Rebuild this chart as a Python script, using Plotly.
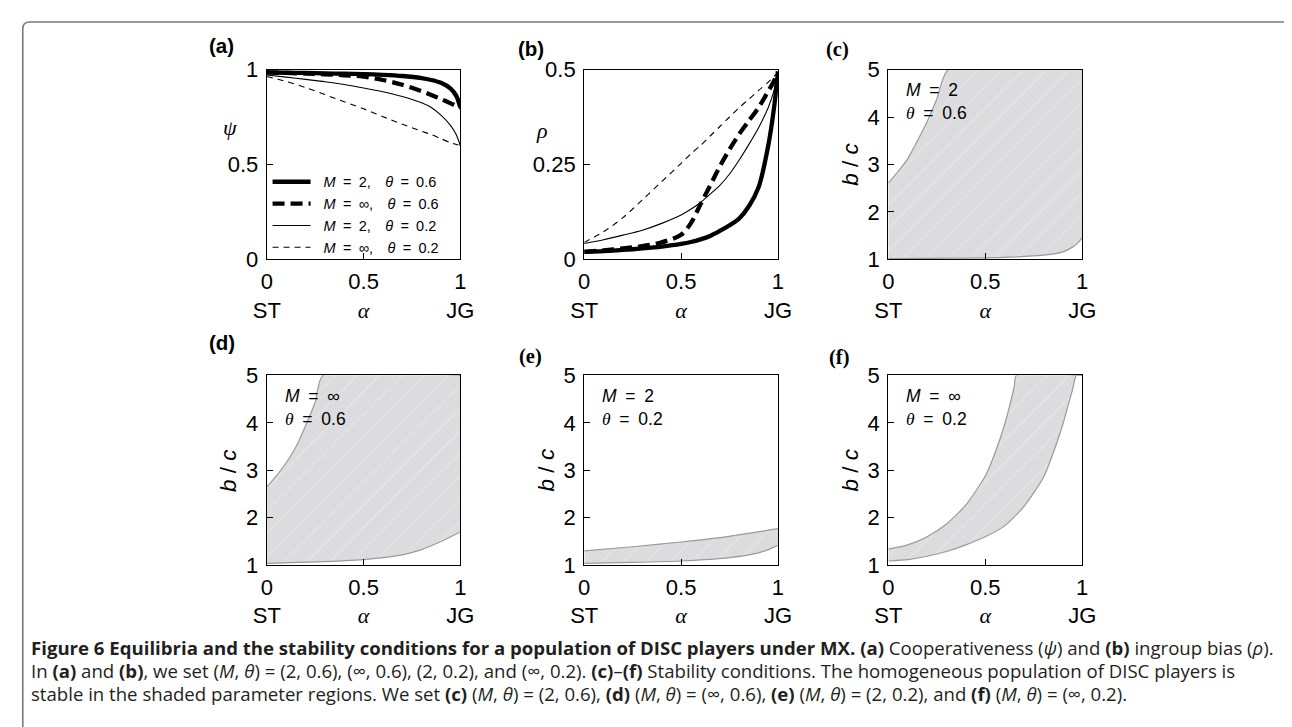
import plotly.graph_objects as go

# ---------------- data ----------------
alpha_a = [0, 0.1, 0.2, 0.3, 0.4, 0.5, 0.6, 0.7, 0.8, 0.85, 0.9, 0.95, 0.98, 1.0]
psi_M2_t06 = [0.985, 0.983, 0.982, 0.980, 0.978, 0.976, 0.972, 0.966, 0.955, 0.945, 0.930, 0.900, 0.860, 0.800]
psi_Minf_t06 = [0.985, 0.982, 0.979, 0.975, 0.970, 0.963, 0.945, 0.920, 0.886, 0.866, 0.845, 0.822, 0.808, 0.800]
psi_M2_t02 = [0.971, 0.960, 0.948, 0.936, 0.921, 0.903, 0.883, 0.858, 0.825, 0.800, 0.760, 0.705, 0.655, 0.598]
psi_Minf_t02 = [0.963, 0.937, 0.905, 0.868, 0.830, 0.793, 0.752, 0.712, 0.675, 0.658, 0.636, 0.615, 0.605, 0.600]

alpha_b = [0, 0.1, 0.2, 0.3, 0.4, 0.5, 0.55, 0.6, 0.65, 0.7, 0.75, 0.8, 0.85, 0.9, 0.95, 0.98, 1.0]
rho_M2_t06 = [0.020, 0.022, 0.025, 0.029, 0.034, 0.041, 0.046, 0.053, 0.062, 0.075, 0.090, 0.108, 0.140, 0.190, 0.300, 0.400, 0.494]
rho_Minf_t06 = [0.020, 0.024, 0.029, 0.035, 0.045, 0.065, 0.095, 0.145, 0.195, 0.245, 0.290, 0.330, 0.365, 0.400, 0.443, 0.470, 0.494]
rho_M2_t02 = [0.042, 0.052, 0.064, 0.077, 0.095, 0.117, 0.132, 0.150, 0.172, 0.195, 0.225, 0.262, 0.303, 0.347, 0.400, 0.445, 0.494]
rho_Minf_t02 = [0.045, 0.073, 0.110, 0.157, 0.205, 0.253, 0.278, 0.300, 0.325, 0.350, 0.375, 0.400, 0.422, 0.445, 0.467, 0.482, 0.494]

# stability regions (b/c bounds) for panels c-f
c_up_alpha = [0, 0.05, 0.1, 0.15, 0.2, 0.25, 0.31, 1.0]
c_up_bc = [2.61, 2.85, 3.12, 3.50, 3.90, 4.38, 5.0, 5.0]
c_lo_alpha = [0, 0.2, 0.4, 0.6, 0.8, 0.9, 0.95, 0.98, 1.0]
c_lo_bc = [1.02, 1.025, 1.03, 1.045, 1.09, 1.16, 1.26, 1.36, 1.46]

d_up_alpha = [0, 0.05, 0.1, 0.15, 0.2, 0.25, 0.29, 1.0]
d_up_bc = [2.65, 2.89, 3.16, 3.49, 3.94, 4.44, 5.0, 5.0]
d_lo_alpha = [0, 0.25, 0.5, 0.6, 0.7, 0.8, 0.9, 1.0]
d_lo_bc = [1.04, 1.07, 1.12, 1.16, 1.22, 1.33, 1.50, 1.70]

e_up_alpha = [0, 0.25, 0.5, 0.75, 1.0]
e_up_bc = [1.305, 1.39, 1.49, 1.61, 1.77]
e_lo_alpha = [0, 0.25, 0.5, 0.75, 0.9, 0.95, 1.0]
e_lo_bc = [1.04, 1.06, 1.09, 1.16, 1.26, 1.33, 1.42]

f_up_alpha = [0, 0.1, 0.2, 0.3, 0.4, 0.5, 0.55, 0.6, 0.65, 0.66, 1.0]
f_up_bc = [1.34, 1.43, 1.60, 1.87, 2.27, 2.88, 3.36, 3.97, 4.78, 5.0, 5.0]
f_lo_alpha = [0, 0.1, 0.2, 0.3, 0.4, 0.5, 0.6, 0.7, 0.8, 0.85, 0.9, 0.95, 0.97, 1.0]
f_lo_bc = [1.09, 1.12, 1.19, 1.29, 1.43, 1.60, 1.83, 2.24, 2.85, 3.36, 3.97, 4.70, 5.0, 5.0]

x_tickvals = [0, 0.5, 1]
ALPHA = '<span style="font-family:Liberation Serif"><i>α</i></span>'
x_ticktext = ["0<br>ST", "0.5<br>" + ALPHA, "1<br>JG"]

EN, EM, NB = "\u2002", "\u2003", "\u00a0"
series_names = [f"{NB}{NB}<i>M</i>{EN}={EN}2,{EM}<i>θ</i>{EN}={EN}0.6",
                f"{NB}{NB}<i>M</i>{EN}={EN}∞,{EM}<i>θ</i>{EN}={EN}0.6",
                f"{NB}{NB}<i>M</i>{EN}={EN}2,{EM}<i>θ</i>{EN}={EN}0.2",
                f"{NB}{NB}<i>M</i>{EN}={EN}∞,{EM}<i>θ</i>{EN}={EN}0.2"]
panel_params = [("2", "0.6"), ("∞", "0.6"), ("2", "0.2"), ("∞", "0.2")]

# ---------------- layout helpers ----------------
W, H = 1292, 727
# target positions (pixels in the reference picture)
cols = [(258.3, 456.0), (582.7, 780.7), (893.5, 1091.7)]
rows = [(59.3, 256.0), (376.0, 572.7)]
# the page shows the figure offset by the browser's default 8px body margin
OX, OY = 8.0, 8.0


def fx(p):
    return (p - OX) / W


def fy(p):
    return 1 - (p - OY) / H


fig = go.Figure()

styles = [dict(width=4.3, dash="solid"), dict(width=4.3, dash="12px,6px"),
          dict(width=1.1, dash="solid"), dict(width=1.1, dash="6px,5px")]

psi_series = [psi_M2_t06, psi_Minf_t06, psi_M2_t02, psi_Minf_t02]
rho_series = [rho_M2_t06, rho_Minf_t06, rho_M2_t02, rho_Minf_t02]

for name, st, ys in zip(series_names, styles, psi_series):
    fig.add_trace(go.Scatter(x=alpha_a, y=ys, mode="lines", name=name,
                             line=dict(color="black", shape="spline", smoothing=0.8, **st),
                             xaxis="x", yaxis="y", showlegend=True))
for name, st, ys in zip(series_names, styles, rho_series):
    fig.add_trace(go.Scatter(x=alpha_b, y=ys, mode="lines", name=name,
                             line=dict(color="black", shape="spline", smoothing=0.8, **st),
                             xaxis="x2", yaxis="y2", showlegend=False))

regions = [(c_lo_alpha, c_lo_bc, c_up_alpha, c_up_bc),
           (d_lo_alpha, d_lo_bc, d_up_alpha, d_up_bc),
           (e_lo_alpha, e_lo_bc, e_up_alpha, e_up_bc),
           (f_lo_alpha, f_lo_bc, f_up_alpha, f_up_bc)]
for i, (lx, ly, ux, uy) in enumerate(regions):
    k = i + 3
    fig.add_trace(go.Scatter(x=lx, y=ly, mode="lines",
                             line=dict(color="#9a9a9a", width=1.2, shape="spline", smoothing=0.6),
                             xaxis=f"x{k}", yaxis=f"y{k}", showlegend=False, hoverinfo="skip"))
    fig.add_trace(go.Scatter(x=ux, y=uy, mode="lines", fill="tonexty", fillcolor="#dcdcde",
                             fillpattern=dict(shape="/", bgcolor="#dcdcde", fgcolor="white",
                                              fgopacity=0.22, size=16, solidity=0.08),
                             line=dict(color="#9a9a9a", width=1.2, shape="spline", smoothing=0.6),
                             xaxis=f"x{k}", yaxis=f"y{k}", showlegend=False, hoverinfo="skip"))

tickfont = dict(family="Liberation Sans", size=22, color="black")
axis_common = dict(showline=True, mirror=True, linecolor="black", linewidth=1.3,
                   ticks="inside", ticklen=6, tickwidth=1.2, tickcolor="black",
                   showgrid=False, zeroline=False, tickfont=tickfont, fixedrange=True)

layout_axes = {}
for k in range(1, 7):
    r, c = (k - 1) // 3, (k - 1) % 3
    xs = "xaxis" if k == 1 else f"xaxis{k}"
    ys = "yaxis" if k == 1 else f"yaxis{k}"
    yid = "y" if k == 1 else f"y{k}"
    xid = "x" if k == 1 else f"x{k}"
    layout_axes[xs] = dict(domain=[fx(cols[c][0]), fx(cols[c][1])], anchor=yid,
                           range=[0, 1], tickvals=x_tickvals, ticktext=x_ticktext,
                           ticklabelstandoff=2, **axis_common)
    if k == 1:
        yr, yv, yt = [0, 1], [0, 0.5, 1], ["0", "0.5", "1"]
    elif k == 2:
        yr, yv, yt = [0, 0.5], [0, 0.25, 0.5], ["0", "0.25", "0.5"]
    else:
        yr, yv, yt = [1, 5], [1, 2, 3, 4, 5], ["1", "2", "3", "4", "5"]
    layout_axes[ys] = dict(domain=[fy(rows[r][1]), fy(rows[r][0])], anchor=xid,
                           range=yr, tickvals=yv, ticktext=yt, ticklabelstandoff=3,
                           **axis_common)

annotations = []


def ann(text, x, y, font, **kw):
    d = dict(text=text, x=fx(x), y=fy(y), xref="paper", yref="paper", showarrow=False,
             xanchor="center", yanchor="middle", font=font)
    d.update(kw)
    annotations.append(d)


# panel labels
labels = [("(a)", 212, 34, "Liberation Sans"), ("(b)", 528, 37, "Liberation Sans"),
          ("(c)", 842, 39, "Liberation Serif"), ("(d)", 212, 342, "Liberation Sans"),
          ("(e)", 528, 357, "Liberation Serif"), ("(f)", 843, 358, "Liberation Serif")]
for t, x, y, fam in labels:
    ann(f"<b>{t}</b>", x, y, dict(family=fam, size=20.5, color="black"))

# y titles a, b
ann("<i>ψ</i>", 221, 119, dict(family="Liberation Serif", size=22, color="black"))
ann("<i>ρ</i>", 540, 122, dict(family="Liberation Serif", size=22, color="black"))

# y titles and parameter notes c-f
for k in range(3, 7):
    r, c = (k - 1) // 3, (k - 1) % 3
    yc = rows[r][0] + (5 - 3) / 4 * (rows[r][1] - rows[r][0])
    ann("<i>b</i> / <i>c</i>", cols[c][0] - 39, yc,
        dict(family="Liberation Sans", size=22.5, color="black"), textangle=-90)
    m, th = panel_params[k - 3]
    ann(f"<i>M</i>{EN}={EN}{m}<br><span style=\"font-family:Liberation Serif\"><i>θ</i></span>{EN}={EN}{th}",
        cols[c][0] + 16, rows[r][0] + 9, dict(family="Liberation Sans", size=17.5, color="black"),
        xanchor="left", yanchor="top", align="left")

# caption
cap_font = dict(family="Open Sans", size=18.6, color="#231f20")
MT = "(<i>M</i>, <i>θ</i>)"
cap_lines = [
    "<b>Figure 6 Equilibria and the stability conditions for a population of DISC players under MX. (a)</b> Cooperativeness (<i>ψ</i>) and <b>(b)</b> ingroup bias (<i>ρ</i>).",
    f"In <b>(a)</b> and <b>(b)</b>, we set {MT} = (2, 0.6), (∞, 0.6), (2, 0.2), and (∞, 0.2). <b>(c)</b>–<b>(f)</b> Stability conditions. The homogeneous population of DISC players is",
    f"stable in the shaded parameter regions. We set <b>(c)</b> {MT} = (2, 0.6), <b>(d)</b> {MT} = (∞, 0.6), <b>(e)</b> {MT} = (2, 0.2), and <b>(f)</b> {MT} = (∞, 0.2).",
]
for t, y in zip(cap_lines, [658, 682, 705]):
    ann(t, 15, y, cap_font, xanchor="left", align="left")

# border frame: left edge and top edge with a rounded top-left corner
bl, bt, rr = 8.8, 10.0, 7.0
border_path = (f"M {fx(bl)},-0.05 L {fx(bl)},{fy(bt + rr)} "
               f"Q {fx(bl)},{fy(bt)} {fx(bl + rr)},{fy(bt)} L 1.05,{fy(bt)}")

fig.update_layout(
    width=W, height=H, margin=dict(l=0, r=0, t=0, b=0),
    paper_bgcolor="white", plot_bgcolor="white",
    showlegend=True,
    legend=dict(x=fx(259), y=fy(159), xanchor="left", yanchor="top", traceorder="normal",
                bgcolor="rgba(0,0,0,0)", borderwidth=0, itemwidth=38, tracegroupgap=0,
                font=dict(family="Liberation Sans", size=14.5, color="black")),
    annotations=annotations,
    shapes=[dict(type="path", path=border_path, xref="paper", yref="paper",
                 line=dict(color="#7a7a7a", width=1.6))],
    **layout_axes,
)

fig.write_html("out.html")
